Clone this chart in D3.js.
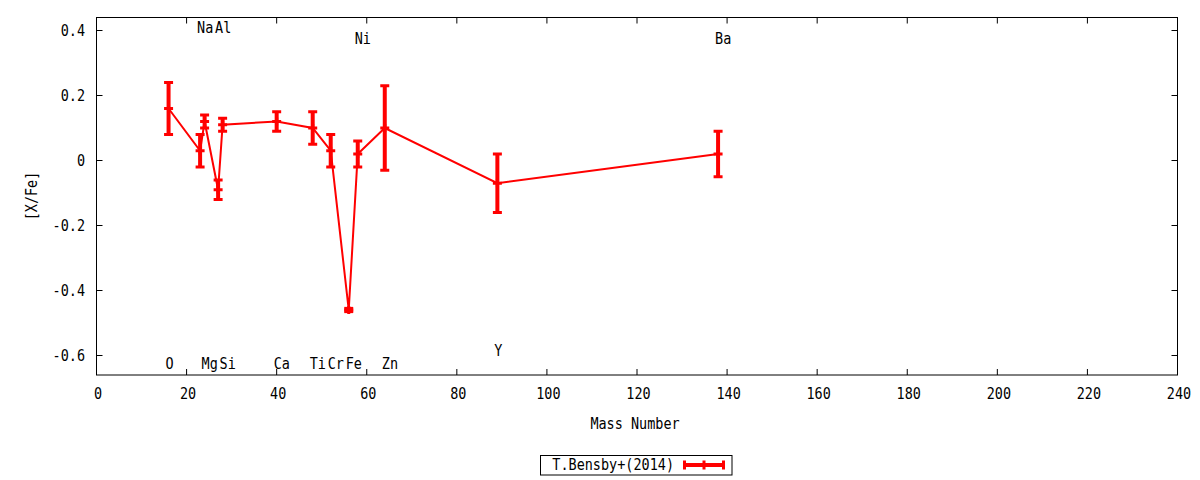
<!DOCTYPE html>
<html>
<head>
<meta charset="utf-8">
<script src="https://cdn.jsdelivr.net/npm/d3@7"></script>
<style>
  body { margin: 0; background: #fff; }
  svg text { font-family: "DejaVu Sans Mono", monospace; font-size: 15.5px; fill: #000; }
</style>
</head>
<body>
<div id="chart"></div>
<script>
// abundance ratios vs mass number
const elements    = ['O', 'Na', 'Mg', 'Al', 'Si', 'Ca', 'Ti', 'Cr', 'Fe', 'Ni', 'Zn', 'Y', 'Ba'];
const massNumbers = [16, 23, 24, 27, 28, 40, 48, 52, 56, 58, 64, 89, 138];
const xfe         = [0.16, 0.03, 0.12, -0.09, 0.11, 0.12, 0.10, 0.03, -0.46, 0.02, 0.10, -0.07, 0.02];
const xfeErr      = [0.08, 0.05, 0.02, 0.03, 0.02, 0.03, 0.05, 0.05, 0.005, 0.04, 0.13, 0.09, 0.07];
const labelY      = [-0.624, 0.408, -0.624, 0.408, -0.624, -0.624, -0.624, -0.624, -0.624, 0.375, -0.624, -0.584, 0.375];
const xTicks = [0, 20, 40, 60, 80, 100, 120, 140, 160, 180, 200, 220, 240];
const yTicks = [-0.6, -0.4, -0.2, 0, 0.2, 0.4];
const seriesName = 'T.Bensby+(2014)';

const W = 1200, H = 480;
const m = { left: 96.5, right: 1177.5, top: 17.5, bottom: 375 };
const red = '#ff0000';
const sx = 0.87; // condensed glyphs

const svg = d3.select('#chart').append('svg')
  .attr('width', W).attr('height', H);

const x = d3.scaleLinear().domain([0, 240]).range([m.left, m.right]);
const y = d3.scaleLinear().domain([-0.66, 0.44]).range([m.bottom, m.top]);

const fmt = d => d === 0 ? '0' : String(d);

function txt(g, s, px, py, anchor, rot) {
  return g.append('text')
    .attr('transform', `translate(${px},${py})` + (rot ? ` rotate(${rot})` : '') + ` scale(${sx},1)`)
    .attr('text-anchor', anchor || 'middle')
    .attr('dominant-baseline', 'central')
    .text(s);
}

// ticks (inward, mirrored)
const tk = svg.append('g').attr('stroke', '#000').attr('stroke-width', 1);
xTicks.forEach(t => {
  tk.append('line').attr('x1', x(t)).attr('x2', x(t)).attr('y1', m.bottom).attr('y2', m.bottom - 6);
  tk.append('line').attr('x1', x(t)).attr('x2', x(t)).attr('y1', m.top).attr('y2', m.top + 6);
});
yTicks.forEach(t => {
  tk.append('line').attr('x1', m.left).attr('x2', m.left + 6).attr('y1', y(t)).attr('y2', y(t));
  tk.append('line').attr('x1', m.right).attr('x2', m.right - 6).attr('y1', y(t)).attr('y2', y(t));
});

const labels = svg.append('g');
xTicks.forEach(t => txt(labels, fmt(t), x(t) + 1.5, 394));
yTicks.forEach(t => txt(labels, fmt(t), 85, y(t), 'end'));
txt(labels, 'Mass Number', 635, 424);
txt(labels, '[X/Fe]', 32, 196, 'middle', -90);

// element labels
elements.forEach((e, i) => txt(labels, e, x(massNumbers[i]) - 3, y(labelY[i]), 'start'));

// series
const pts = massNumbers.map((mn, i) => ({ mn, v: xfe[i], e: xfeErr[i] }));
const line = d3.line().x(d => x(d.mn)).y(d => y(d.v));
svg.append('path').attr('d', line(pts))
  .attr('fill', 'none').attr('stroke', red).attr('stroke-width', 2);

const eb = svg.append('g').attr('stroke', red).attr('stroke-width', 4);
pts.forEach(d => {
  const cx = x(d.mn), cy = y(d.v);
  eb.append('line').attr('x1', cx).attr('x2', cx).attr('y1', y(d.v - d.e)).attr('y2', y(d.v + d.e));
  // point marker (plus)
  eb.append('line').attr('x1', cx).attr('x2', cx).attr('y1', cy - 4).attr('y2', cy + 4).attr('stroke-width', 3);
  [d.v - d.e, d.v + d.e, d.v].forEach(v => {
    eb.append('line').attr('x1', cx - 4.5).attr('x2', cx + 4.5).attr('y1', y(v)).attr('y2', y(v)).attr('stroke-width', 3);
  });
});

// frame
svg.append('rect').attr('x', m.left).attr('y', m.top)
  .attr('width', m.right - m.left).attr('height', m.bottom - m.top)
  .attr('fill', 'none').attr('stroke', '#000').attr('stroke-width', 1);

// legend
const lg = svg.append('g');
lg.append('rect').attr('x', 540.5).attr('y', 455.5).attr('width', 191.5).attr('height', 19.5)
  .attr('fill', 'none').attr('stroke', '#000').attr('stroke-width', 1);
txt(lg, seriesName, 674, 465, 'end');
const ls = lg.append('g').attr('stroke', red).attr('stroke-width', 4);
ls.append('line').attr('x1', 683).attr('x2', 725).attr('y1', 465).attr('y2', 465);
[684.5, 704, 723.5].forEach(px => {
  ls.append('line').attr('x1', px).attr('x2', px).attr('y1', 460.5).attr('y2', 469.5).attr('stroke-width', 3);
});
</script>
</body>
</html>
